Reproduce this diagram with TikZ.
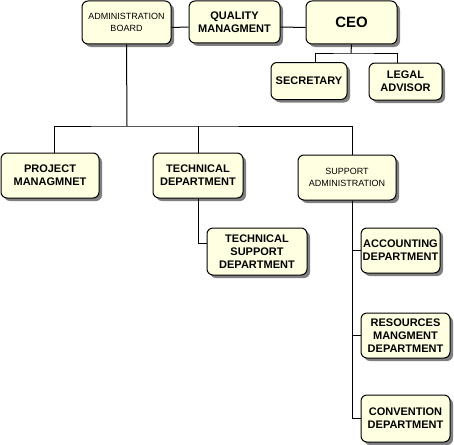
\documentclass[tikz,border=0pt]{standalone}
\usepackage{fontspec}
\setmainfont{Liberation Sans}
\usetikzlibrary{shadows}
\definecolor{cream}{RGB}{255,255,225}

\begin{document}
\begin{tikzpicture}[x=1pt,y=-1pt,line width=1pt,
  unit/.style={draw,fill=cream,rounded corners=6pt,align=center,inner sep=0pt,
    drop shadow={shadow xshift=3pt,shadow yshift=-3pt,fill=black!50,opacity=1},
    font=\fontsize{11}{13}\selectfont\bfseries},
  thinlabel/.style={font=\fontsize{9}{12}\selectfont}]
  \useasboundingbox (0,0) rectangle (454,444);
  % Top row.
  \node[unit,thinlabel,minimum width=89,minimum height=43] (admin) at (126.5,22.5) {ADMINISTRATION\\BOARD};
  \node[unit,minimum width=91,minimum height=42] (quality) at (234.5,22) {QUALITY\\MANAGMENT};
  \node[unit,font=\fontsize{15}{18}\selectfont\bfseries,minimum width=91,minimum height=43] (ceo) at (351.5,22.5) {CEO};
  \node[unit,minimum width=76,minimum height=37] (secretary) at (309,81) {SECRETARY};
  \node[unit,minimum width=73,minimum height=37] (legal) at (405.5,81.5) {LEGAL\\ADVISOR};
  % Departments.
  \node[unit,minimum width=98,minimum height=45] (project) at (50,175.5) {PROJECT\\MANAGMNET};
  \node[unit,minimum width=90,minimum height=45] (technical) at (198,175.5) {TECHNICAL\\DEPARTMENT};
  \node[unit,thinlabel,minimum width=98,minimum height=45] (support) at (347,177.5) {SUPPORT\\ADMINISTRATION};
  \node[unit,minimum width=100,minimum height=47] (techsupport) at (257,251.5) {TECHNICAL\\SUPPORT\\DEPARTMENT};
  \node[unit,minimum width=79,minimum height=45] (accounting) at (400.5,250.5) {ACCOUNTING\\DEPARTMENT};
  \node[unit,minimum width=89,minimum height=45] (resources) at (405.5,335.5) {RESOURCES\\MANGMENT\\DEPARTMENT};
  \node[unit,minimum width=89,minimum height=47] (convention) at (405.5,418.5) {CONVENTION\\DEPARTMENT};
  % Connectors.
  \coordinate (ceobus) at (351,53);
  \coordinate (bus) at (127,126);
  \draw ([yshift=-5pt]admin.east) -- ([yshift=-5pt]quality.west);
  \draw ([yshift=-5pt]quality.east) -- ([yshift=-5pt]ceo.west);
  \draw (ceo.south) -- (ceobus);
  \draw ([xshift=6pt]secretary.north) |- (ceobus) -| ([xshift=-8pt]legal.north);
  \draw (admin.south) -- (bus);
  \draw ([xshift=4pt]project.north) |- (bus) -| ([xshift=5pt]support.north);
  \draw (technical.north) -- (technical.north |- bus);
  \draw (technical.south) |- ([yshift=8pt]techsupport.west);
  \draw ([xshift=5pt]support.south) |- (convention.west);
  \draw (accounting.west) -- ++(-9,0);
  \draw (resources.west) -- ++(-9,0);
\end{tikzpicture}
\end{document}
